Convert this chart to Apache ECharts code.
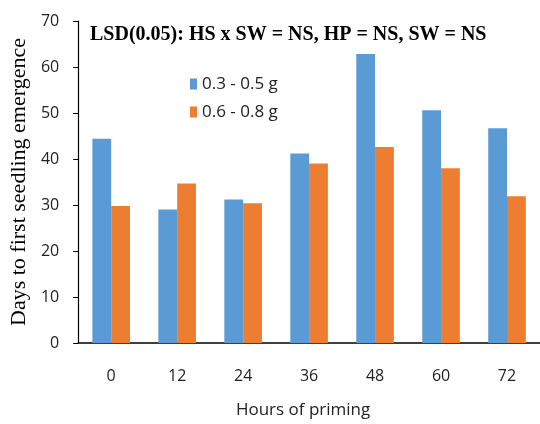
<!DOCTYPE html>
<html>
<head>
<meta charset="utf-8">
<script src="https://cdn.jsdelivr.net/npm/echarts@6/dist/echarts.min.js"></script>
<style>
html,body{margin:0;padding:0;background:#fff;}
#main{width:540px;height:424px;}
</style>
</head>
<body>
<div id="main"></div>
<script>
const categories = ['0', '12', '24', '36', '48', '60', '72'];
const seriesNames = ['0.3 - 0.5 g', '0.6 - 0.8 g'];
const small = [44.4, 29.0, 31.2, 41.2, 62.8, 50.6, 46.7];
const large = [29.8, 34.7, 30.4, 39.0, 42.6, 38.0, 31.9];
const yTicks = [0, 10, 20, 30, 40, 50, 60, 70];

const chart = echarts.init(document.getElementById('main'), null, {renderer: 'canvas'});
chart.setOption({
  animation: false,
  backgroundColor: '#fff',
  title: {
    text: 'LSD(0.05): HS x SW = NS, HP = NS, SW = NS',
    left: 85, top: 20,
    textStyle: {fontFamily: 'Liberation Serif', fontWeight: 'bold', fontSize: 20, color: '#000'}
  },
  legend: {
    data: seriesNames,
    orient: 'vertical',
    left: 185, top: 68,
    itemWidth: 7, itemHeight: 11, itemGap: 6,
    icon: 'rect',
    textStyle: {fontFamily: 'Open Sans', fontSize: 17, color: '#222', lineHeight: 22}
  },
  grid: {left: 73, top: 21, width: 472, height: 330, containLabel: false},
  xAxis: {
    type: 'category',
    data: categories,
    name: 'Hours of priming',
    nameLocation: 'middle',
    nameGap: 59,
    nameTextStyle: {fontFamily: 'Open Sans', fontSize: 17, color: '#222', padding: [0, 0, 0, -12]},
    axisLine: {lineStyle: {color: '#000', width: 1.5}},
    axisTick: {show: false},
    axisLabel: {fontFamily: 'Open Sans', fontSize: 16, color: '#222', margin: 25}
  },
  yAxis: {
    type: 'value',
    min: 0, max: 70, interval: 10,
    name: 'Days to first seedling emergence',
    nameLocation: 'middle',
    nameGap: 44,
    nameTextStyle: {fontFamily: 'Liberation Serif', fontSize: 22, color: '#000'},
    axisLine: {show: true, lineStyle: {color: '#000', width: 1.2}},
    axisTick: {show: true, length: 5, lineStyle: {color: '#000'}},
    splitLine: {show: false},
    axisLabel: {fontFamily: 'Open Sans', fontSize: 16, color: '#222', margin: 19,
      formatter: v => yTicks.includes(v) ? String(v) : ''}
  },
  series: [
    {name: seriesNames[0], type: 'bar', data: small, barGap: '0%', barCategoryGap: '43%',
     itemStyle: {color: '#5B9BD5'}},
    {name: seriesNames[1], type: 'bar', data: large, barGap: '0%', barCategoryGap: '43%',
     itemStyle: {color: '#ED7D31'}}
  ]
});
</script>
</body>
</html>
